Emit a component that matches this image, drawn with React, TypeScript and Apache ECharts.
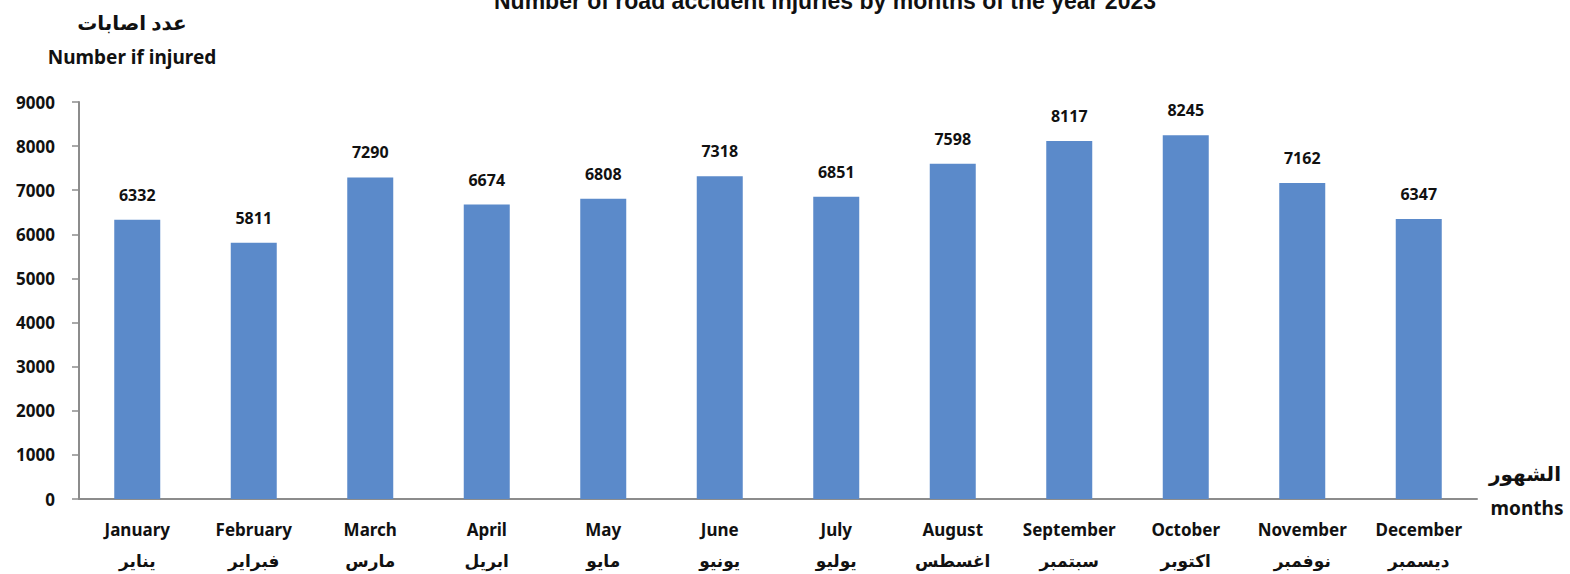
import React, { useEffect, useRef } from "react";
import * as echarts from "echarts";

const monthsEn = ["January", "February", "March", "April", "May", "June", "July", "August", "September", "October", "November", "December"];
const monthsAr = ["يناير", "فبراير", "مارس", "ابريل", "مايو", "يونيو", "يوليو", "اغسطس", "سبتمبر", "اكتوبر", "نوفمبر", "ديسمبر"];
const injuries = [6332, 5811, 7290, 6674, 6808, 7318, 6851, 7598, 8117, 8245, 7162, 6347];
const yTicks = { min: 0, max: 9000, interval: 1000 };
const titleText = "Number of road accident injuries by months of the year 2023";

const FONT = "'Noto Sans', 'DejaVu Sans', sans-serif";

export default function App() {
  const ref = useRef<HTMLDivElement>(null);
  useEffect(() => {
    if (!ref.current) return;
    const chart = echarts.init(ref.current, null, { renderer: "svg" });
    chart.setOption({
      animation: false,
      title: {
        text: titleText,
        left: 820,
        textAlign: "center",
        top: -16,
        textStyle: { fontFamily: "'Liberation Sans', Arial, sans-serif", fontWeight: "bold", fontSize: 23, color: "#111" },
      },
      grid: { left: 79, right: 93, top: 102, bottom: 75, containLabel: false, outerBoundsMode: "none" },
      xAxis: {
        type: "category",
        data: monthsEn.map((m, i) => m + "\n" + monthsAr[i]),
        axisLine: { lineStyle: { color: "#8c8c8c", width: 2 } },
        axisTick: { show: false },
        axisLabel: {
          interval: 0,
          margin: 15,
          fontFamily: FONT,
          fontWeight: "bold",
          fontSize: 17,
          color: "#111",
          lineHeight: 31,
        },
      },
      yAxis: {
        type: "value",
        min: yTicks.min,
        max: yTicks.max,
        interval: yTicks.interval,
        axisLine: { show: true, lineStyle: { color: "#8c8c8c", width: 2 } },
        axisTick: { show: true, length: 7, lineStyle: { color: "#8c8c8c", width: 1.5 } },
        splitLine: { show: false },
        axisLabel: {
          margin: 24,
          formatter: (v: number) => String(v),
          fontFamily: FONT,
          fontWeight: "bold",
          fontSize: 17,
          color: "#111",
        },
      },
      graphic: [
        { type: "text", x: 132, y: 22, style: { text: "عدد اصابات", font: `bold 20px ${FONT}`, fill: "#111", align: "center", verticalAlign: "middle" } },
        { type: "text", x: 132, y: 57, style: { text: "Number if injured", font: `bold 19px ${FONT}`, fill: "#111", align: "center", verticalAlign: "middle" } },
        { type: "text", x: 1525, y: 473, style: { text: "الشهور", font: `bold 20px ${FONT}`, fill: "#111", align: "center", verticalAlign: "middle" } },
        { type: "text", x: 1527, y: 508, style: { text: "months", font: `bold 19px ${FONT}`, fill: "#111", align: "center", verticalAlign: "middle" } },
      ],
      series: [
        {
          type: "bar",
          data: injuries,
          barWidth: 46,
          itemStyle: { color: "#5B8ACA" },
          label: {
            show: true,
            position: "top",
            distance: 17,
            fontFamily: FONT,
            fontWeight: "bold",
            fontSize: 16,
            color: "#111",
          },
        },
      ],
    });
    return () => chart.dispose();
  }, []);
  return <div ref={ref} style={{ width: 1570, height: 574, position: "absolute", left: 0, top: 0 }} />;
}
